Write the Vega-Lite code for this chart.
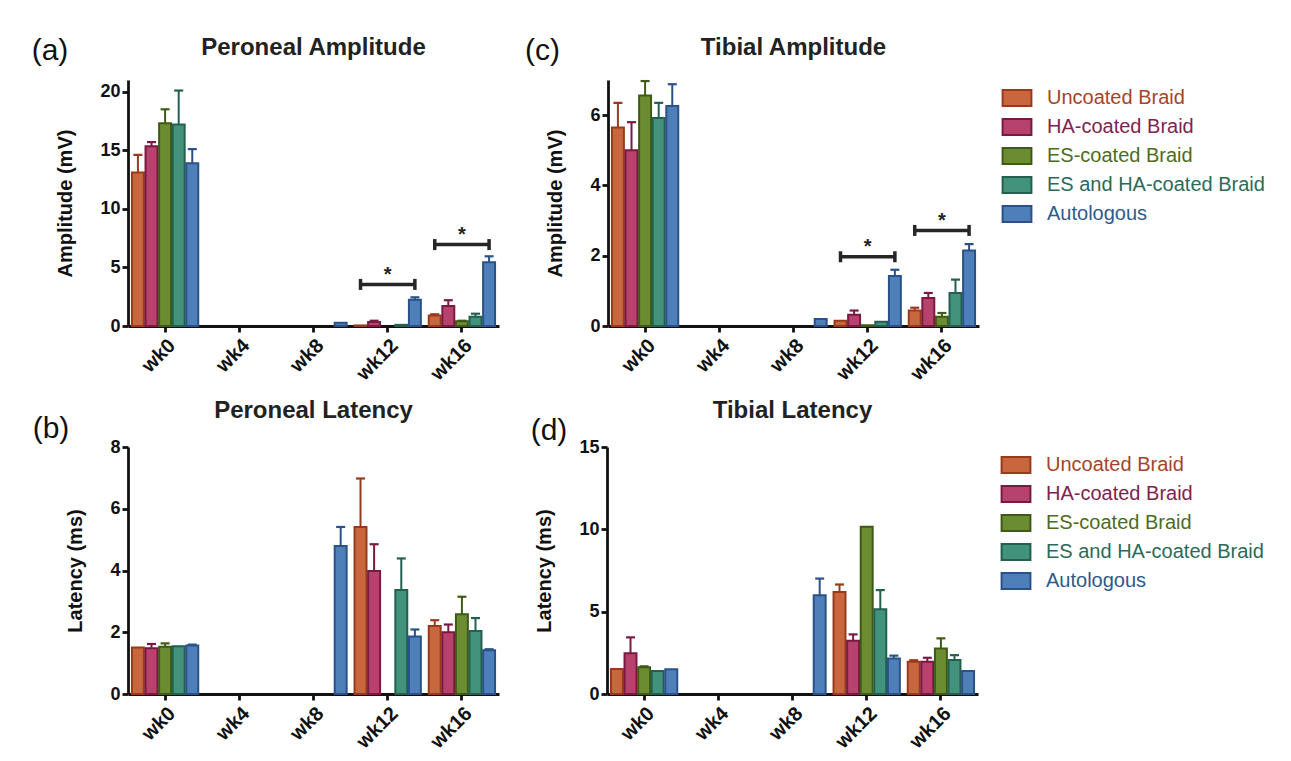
{
  "$schema": "https://vega.github.io/schema/vega-lite/v6.json",
  "padding": {"left": 31, "top": 35, "right": 5, "bottom": 5},
  "background": "white",
  "datasets": {
    "bars": [
      {"p": "a", "week": "wk0", "group": "Uncoated Braid", "value": 13.1, "err": 14.6},
      {"p": "a", "week": "wk0", "group": "HA-coated Braid", "value": 15.35, "err": 15.7},
      {"p": "a", "week": "wk0", "group": "ES-coated Braid", "value": 17.3, "err": 18.5},
      {"p": "a", "week": "wk0", "group": "ES and HA-coated Braid", "value": 17.2, "err": 20.1},
      {"p": "a", "week": "wk0", "group": "Autologous", "value": 13.9, "err": 15.1},
      {"p": "a", "week": "wk8", "group": "Autologous", "value": 0.28},
      {"p": "a", "week": "wk12", "group": "Uncoated Braid", "value": 0.05},
      {"p": "a", "week": "wk12", "group": "HA-coated Braid", "value": 0.35, "err": 0.45},
      {"p": "a", "week": "wk12", "group": "ES and HA-coated Braid", "value": 0.1},
      {"p": "a", "week": "wk12", "group": "Autologous", "value": 2.25, "err": 2.45},
      {"p": "a", "week": "wk16", "group": "Uncoated Braid", "value": 0.9, "err": 1.0},
      {"p": "a", "week": "wk16", "group": "HA-coated Braid", "value": 1.7, "err": 2.2},
      {"p": "a", "week": "wk16", "group": "ES-coated Braid", "value": 0.4, "err": 0.45},
      {"p": "a", "week": "wk16", "group": "ES and HA-coated Braid", "value": 0.78, "err": 1.05},
      {"p": "a", "week": "wk16", "group": "Autologous", "value": 5.45, "err": 5.95},

      {"p": "c", "week": "wk0", "group": "Uncoated Braid", "value": 5.65, "err": 6.35},
      {"p": "c", "week": "wk0", "group": "HA-coated Braid", "value": 5.0, "err": 5.8},
      {"p": "c", "week": "wk0", "group": "ES-coated Braid", "value": 6.56, "err": 6.97},
      {"p": "c", "week": "wk0", "group": "ES and HA-coated Braid", "value": 5.92, "err": 6.35},
      {"p": "c", "week": "wk0", "group": "Autologous", "value": 6.26, "err": 6.88},
      {"p": "c", "week": "wk8", "group": "Autologous", "value": 0.2},
      {"p": "c", "week": "wk12", "group": "Uncoated Braid", "value": 0.15},
      {"p": "c", "week": "wk12", "group": "HA-coated Braid", "value": 0.32, "err": 0.44},
      {"p": "c", "week": "wk12", "group": "ES-coated Braid", "value": 0.02},
      {"p": "c", "week": "wk12", "group": "ES and HA-coated Braid", "value": 0.12},
      {"p": "c", "week": "wk12", "group": "Autologous", "value": 1.42, "err": 1.6},
      {"p": "c", "week": "wk16", "group": "Uncoated Braid", "value": 0.44, "err": 0.52},
      {"p": "c", "week": "wk16", "group": "HA-coated Braid", "value": 0.8, "err": 0.94},
      {"p": "c", "week": "wk16", "group": "ES-coated Braid", "value": 0.26, "err": 0.37},
      {"p": "c", "week": "wk16", "group": "ES and HA-coated Braid", "value": 0.94, "err": 1.32},
      {"p": "c", "week": "wk16", "group": "Autologous", "value": 2.15, "err": 2.33},

      {"p": "b", "week": "wk0", "group": "Uncoated Braid", "value": 1.51},
      {"p": "b", "week": "wk0", "group": "HA-coated Braid", "value": 1.48, "err": 1.62},
      {"p": "b", "week": "wk0", "group": "ES-coated Braid", "value": 1.53, "err": 1.64},
      {"p": "b", "week": "wk0", "group": "ES and HA-coated Braid", "value": 1.55},
      {"p": "b", "week": "wk0", "group": "Autologous", "value": 1.57, "err": 1.6},
      {"p": "b", "week": "wk8", "group": "Autologous", "value": 4.79, "err": 5.41},
      {"p": "b", "week": "wk12", "group": "Uncoated Braid", "value": 5.41, "err": 6.98},
      {"p": "b", "week": "wk12", "group": "HA-coated Braid", "value": 3.98, "err": 4.85},
      {"p": "b", "week": "wk12", "group": "ES and HA-coated Braid", "value": 3.37, "err": 4.39},
      {"p": "b", "week": "wk12", "group": "Autologous", "value": 1.86, "err": 2.09},
      {"p": "b", "week": "wk16", "group": "Uncoated Braid", "value": 2.2, "err": 2.39},
      {"p": "b", "week": "wk16", "group": "HA-coated Braid", "value": 2.0, "err": 2.25},
      {"p": "b", "week": "wk16", "group": "ES-coated Braid", "value": 2.58, "err": 3.15},
      {"p": "b", "week": "wk16", "group": "ES and HA-coated Braid", "value": 2.04, "err": 2.46},
      {"p": "b", "week": "wk16", "group": "Autologous", "value": 1.42, "err": 1.45},

      {"p": "d", "week": "wk0", "group": "Uncoated Braid", "value": 1.52},
      {"p": "d", "week": "wk0", "group": "HA-coated Braid", "value": 2.47, "err": 3.44},
      {"p": "d", "week": "wk0", "group": "ES-coated Braid", "value": 1.62, "err": 1.68},
      {"p": "d", "week": "wk0", "group": "ES and HA-coated Braid", "value": 1.39},
      {"p": "d", "week": "wk0", "group": "Autologous", "value": 1.5},
      {"p": "d", "week": "wk8", "group": "Autologous", "value": 6.0, "err": 7.01},
      {"p": "d", "week": "wk12", "group": "Uncoated Braid", "value": 6.2, "err": 6.65},
      {"p": "d", "week": "wk12", "group": "HA-coated Braid", "value": 3.23, "err": 3.62},
      {"p": "d", "week": "wk12", "group": "ES-coated Braid", "value": 10.15},
      {"p": "d", "week": "wk12", "group": "ES and HA-coated Braid", "value": 5.15, "err": 6.31},
      {"p": "d", "week": "wk12", "group": "Autologous", "value": 2.16, "err": 2.33},
      {"p": "d", "week": "wk16", "group": "Uncoated Braid", "value": 1.96, "err": 2.05},
      {"p": "d", "week": "wk16", "group": "HA-coated Braid", "value": 1.96, "err": 2.2},
      {"p": "d", "week": "wk16", "group": "ES-coated Braid", "value": 2.77, "err": 3.38},
      {"p": "d", "week": "wk16", "group": "ES and HA-coated Braid", "value": 2.06, "err": 2.36},
      {"p": "d", "week": "wk16", "group": "Autologous", "value": 1.39}
    ],
    "brackets": [
      {"p": "a", "week": "wk12", "level": 3.55, "star": 4.35},
      {"p": "a", "week": "wk16", "level": 6.95, "star": 7.75},
      {"p": "c", "week": "wk12", "level": 1.97, "star": 2.24},
      {"p": "c", "week": "wk16", "level": 2.72, "star": 2.99}
    ]
  },
  "resolve": {"scale": {"fill": "independent", "stroke": "independent"}, "legend": {"fill": "independent", "stroke": "independent"}},
  "spacing": 15,
  "vconcat": [
    {
      "resolve": {"scale": {"fill": "independent", "stroke": "independent"}, "legend": {"fill": "independent", "stroke": "independent"}},
      "spacing": 26,
      "hconcat": [
        {
          "title": {"text": "(a)", "orient": "left", "anchor": "end", "angle": 0, "fontSize": 30, "fontWeight": "normal", "color": "#111", "offset": -49},
          "vconcat": [
            {
              "title": {"text": "Peroneal Amplitude"},
              "width": 371, "height": 246,
              "data": {"name": "bars"},
              "transform": [{"filter": "datum.p === 'a'"}],
              "encoding": {
                "x": {"field": "week", "type": "nominal", "title": null, "scale": {"domain": ["wk0", "wk4", "wk8", "wk12", "wk16"], "paddingInner": 0, "paddingOuter": 0}, "axis": {"labelAngle": -45}},
                "xOffset": {"field": "group", "type": "nominal", "scale": {"domain": ["Uncoated Braid", "HA-coated Braid", "ES-coated Braid", "ES and HA-coated Braid", "Autologous"], "paddingInner": 0.12, "paddingOuter": 0.29}}
              },
              "layer": [
                {
                  "mark": {"type": "bar", "strokeWidth": 2},
                  "encoding": {
                    "y": {"field": "value", "type": "quantitative", "title": "Amplitude (mV)", "scale": {"domain": [0, 21], "nice": false}, "axis": {"values": [0, 5, 10, 15, 20]}},
                    "fill": {"field": "group", "type": "nominal", "legend": null, "scale": {"domain": ["Uncoated Braid", "HA-coated Braid", "ES-coated Braid", "ES and HA-coated Braid", "Autologous"], "range": ["#c8663e", "#b8426e", "#6c8c32", "#43927c", "#4f7fb8"]}},
                    "stroke": {"field": "group", "type": "nominal", "legend": null, "scale": {"domain": ["Uncoated Braid", "HA-coated Braid", "ES-coated Braid", "ES and HA-coated Braid", "Autologous"], "range": ["#9a3a1c", "#7a1a42", "#3f5a16", "#236050", "#2a5288"]}}
                  }
                },
                {
                  "transform": [{"filter": "isValid(datum.err)"}],
                  "mark": {"type": "rule", "strokeWidth": 2},
                  "encoding": {
                    "y": {"field": "value", "type": "quantitative", "title": "Amplitude (mV)"},
                    "y2": {"field": "err"},
                    "stroke": {"field": "group", "type": "nominal", "legend": null}
                  }
                },
                {
                  "transform": [{"filter": "isValid(datum.err)"}],
                  "mark": {"type": "tick", "size": 7, "thickness": 0.2, "strokeWidth": 2, "filled": false, "opacity": 1},
                  "encoding": {
                    "y": {"field": "err", "type": "quantitative", "title": "Amplitude (mV)"},
                    "stroke": {"field": "group", "type": "nominal", "legend": null}
                  }
                },
                {
                  "data": {"name": "brackets"},
                  "transform": [{"filter": "datum.p === 'a'"}],
                  "mark": {"type": "tick", "size": 55, "thickness": 3.5, "color": "#262626", "opacity": 1},
                  "encoding": {
                    "xOffset": {"datum": "ES-coated Braid"},
                    "y": {"field": "level", "type": "quantitative", "title": "Amplitude (mV)"}
                  }
                },
                {
                  "data": {"name": "brackets"},
                  "transform": [{"filter": "datum.p === 'a'"}],
                  "mark": {"type": "tick", "orient": "vertical", "size": 11, "thickness": 3.5, "color": "#262626", "opacity": 1},
                  "encoding": {
                    "xOffset": {"datum": "Uncoated Braid"},
                    "y": {"field": "level", "type": "quantitative", "title": "Amplitude (mV)"}
                  }
                },
                {
                  "data": {"name": "brackets"},
                  "transform": [{"filter": "datum.p === 'a'"}],
                  "mark": {"type": "tick", "orient": "vertical", "size": 11, "thickness": 3.5, "color": "#262626", "opacity": 1},
                  "encoding": {
                    "xOffset": {"datum": "Autologous"},
                    "y": {"field": "level", "type": "quantitative", "title": "Amplitude (mV)"}
                  }
                },
                {
                  "data": {"name": "brackets"},
                  "transform": [{"filter": "datum.p === 'a'"}],
                  "mark": {"type": "text", "fontSize": 20, "fontWeight": "bold", "color": "#222", "baseline": "middle", "font": "Liberation Sans"},
                  "encoding": {
                    "xOffset": {"datum": "ES-coated Braid"},
                    "y": {"field": "star", "type": "quantitative", "title": "Amplitude (mV)"},
                    "text": {"value": "*"}
                  }
                }
              ]
            }
          ]
        },
        {
          "title": {"text": "(c)", "orient": "left", "anchor": "end", "angle": 0, "fontSize": 30, "fontWeight": "normal", "color": "#111", "offset": -49},
          "vconcat": [
            {
              "title": {"text": "Tibial Amplitude"},
              "width": 371, "height": 246,
              "data": {"name": "bars"},
              "transform": [{"filter": "datum.p === 'c'"}],
              "encoding": {
                "x": {"field": "week", "type": "nominal", "title": null, "scale": {"domain": ["wk0", "wk4", "wk8", "wk12", "wk16"], "paddingInner": 0, "paddingOuter": 0}, "axis": {"labelAngle": -45}},
                "xOffset": {"field": "group", "type": "nominal", "scale": {"domain": ["Uncoated Braid", "HA-coated Braid", "ES-coated Braid", "ES and HA-coated Braid", "Autologous"], "paddingInner": 0.12, "paddingOuter": 0.29}}
              },
              "layer": [
                {
                  "mark": {"type": "bar", "strokeWidth": 2},
                  "encoding": {
                    "y": {"field": "value", "type": "quantitative", "title": "Amplitude (mV)", "scale": {"domain": [0, 7], "nice": false}, "axis": {"values": [0, 2, 4, 6]}},
                    "fill": {"field": "group", "type": "nominal", "title": null, "scale": {"domain": ["Uncoated Braid", "HA-coated Braid", "ES-coated Braid", "ES and HA-coated Braid", "Autologous"], "range": ["#c8663e", "#b8426e", "#6c8c32", "#43927c", "#4f7fb8"]}},
                    "stroke": {"field": "group", "type": "nominal", "title": null, "scale": {"domain": ["Uncoated Braid", "HA-coated Braid", "ES-coated Braid", "ES and HA-coated Braid", "Autologous"], "range": ["#9a3a1c", "#7a1a42", "#3f5a16", "#236050", "#2a5288"]}}
                  }
                },
                {
                  "transform": [{"filter": "isValid(datum.err)"}],
                  "mark": {"type": "rule", "strokeWidth": 2},
                  "encoding": {
                    "y": {"field": "value", "type": "quantitative", "title": "Amplitude (mV)"},
                    "y2": {"field": "err"},
                    "stroke": {"field": "group", "type": "nominal", "title": null}
                  }
                },
                {
                  "transform": [{"filter": "isValid(datum.err)"}],
                  "mark": {"type": "tick", "size": 7, "thickness": 0.2, "strokeWidth": 2, "filled": false, "opacity": 1},
                  "encoding": {
                    "y": {"field": "err", "type": "quantitative", "title": "Amplitude (mV)"},
                    "stroke": {"field": "group", "type": "nominal", "title": null}
                  }
                },
                {
                  "data": {"name": "brackets"},
                  "transform": [{"filter": "datum.p === 'c'"}],
                  "mark": {"type": "tick", "size": 55, "thickness": 3.5, "color": "#262626", "opacity": 1},
                  "encoding": {
                    "xOffset": {"datum": "ES-coated Braid"},
                    "y": {"field": "level", "type": "quantitative", "title": "Amplitude (mV)"}
                  }
                },
                {
                  "data": {"name": "brackets"},
                  "transform": [{"filter": "datum.p === 'c'"}],
                  "mark": {"type": "tick", "orient": "vertical", "size": 11, "thickness": 3.5, "color": "#262626", "opacity": 1},
                  "encoding": {
                    "xOffset": {"datum": "Uncoated Braid"},
                    "y": {"field": "level", "type": "quantitative", "title": "Amplitude (mV)"}
                  }
                },
                {
                  "data": {"name": "brackets"},
                  "transform": [{"filter": "datum.p === 'c'"}],
                  "mark": {"type": "tick", "orient": "vertical", "size": 11, "thickness": 3.5, "color": "#262626", "opacity": 1},
                  "encoding": {
                    "xOffset": {"datum": "Autologous"},
                    "y": {"field": "level", "type": "quantitative", "title": "Amplitude (mV)"}
                  }
                },
                {
                  "data": {"name": "brackets"},
                  "transform": [{"filter": "datum.p === 'c'"}],
                  "mark": {"type": "text", "fontSize": 20, "fontWeight": "bold", "color": "#222", "baseline": "middle", "font": "Liberation Sans"},
                  "encoding": {
                    "xOffset": {"datum": "ES-coated Braid"},
                    "y": {"field": "star", "type": "quantitative", "title": "Amplitude (mV)"},
                    "text": {"value": "*"}
                  }
                }
              ]
            }
          ]
        }
      ]
    },
    {
      "resolve": {"scale": {"fill": "independent", "stroke": "independent"}, "legend": {"fill": "independent", "stroke": "independent"}},
      "spacing": 31,
      "hconcat": [
        {
          "title": {"text": "(b)", "orient": "left", "anchor": "end", "angle": 0, "fontSize": 30, "fontWeight": "normal", "color": "#111", "offset": -40, "dy": 15},
          "vconcat": [
            {
              "title": {"text": "Peroneal Latency", "offset": 15},
              "width": 371, "height": 247,
              "data": {"name": "bars"},
              "transform": [{"filter": "datum.p === 'b'"}],
              "encoding": {
                "x": {"field": "week", "type": "nominal", "title": null, "scale": {"domain": ["wk0", "wk4", "wk8", "wk12", "wk16"], "paddingInner": 0, "paddingOuter": 0}, "axis": {"labelAngle": -45}},
                "xOffset": {"field": "group", "type": "nominal", "scale": {"domain": ["Uncoated Braid", "HA-coated Braid", "ES-coated Braid", "ES and HA-coated Braid", "Autologous"], "paddingInner": 0.12, "paddingOuter": 0.29}}
              },
              "layer": [
                {
                  "mark": {"type": "bar", "strokeWidth": 2},
                  "encoding": {
                    "y": {"field": "value", "type": "quantitative", "title": "Latency (ms)", "scale": {"domain": [0, 8], "nice": false}, "axis": {"values": [0, 2, 4, 6, 8]}},
                    "fill": {"field": "group", "type": "nominal", "legend": null, "scale": {"domain": ["Uncoated Braid", "HA-coated Braid", "ES-coated Braid", "ES and HA-coated Braid", "Autologous"], "range": ["#c8663e", "#b8426e", "#6c8c32", "#43927c", "#4f7fb8"]}},
                    "stroke": {"field": "group", "type": "nominal", "legend": null, "scale": {"domain": ["Uncoated Braid", "HA-coated Braid", "ES-coated Braid", "ES and HA-coated Braid", "Autologous"], "range": ["#9a3a1c", "#7a1a42", "#3f5a16", "#236050", "#2a5288"]}}
                  }
                },
                {
                  "transform": [{"filter": "isValid(datum.err)"}],
                  "mark": {"type": "rule", "strokeWidth": 2},
                  "encoding": {
                    "y": {"field": "value", "type": "quantitative", "title": "Latency (ms)"},
                    "y2": {"field": "err"},
                    "stroke": {"field": "group", "type": "nominal", "legend": null}
                  }
                },
                {
                  "transform": [{"filter": "isValid(datum.err)"}],
                  "mark": {"type": "tick", "size": 7, "thickness": 0.2, "strokeWidth": 2, "filled": false, "opacity": 1},
                  "encoding": {
                    "y": {"field": "err", "type": "quantitative", "title": "Latency (ms)"},
                    "stroke": {"field": "group", "type": "nominal", "legend": null}
                  }
                }
              ]
            }
          ]
        },
        {
          "title": {"text": "(d)", "orient": "left", "anchor": "end", "angle": 0, "fontSize": 30, "fontWeight": "normal", "color": "#111", "offset": -69, "dy": 17},
          "vconcat": [
            {
              "title": {"text": "Tibial Latency", "offset": 15},
              "width": 371, "height": 247,
              "data": {"name": "bars"},
              "transform": [{"filter": "datum.p === 'd'"}],
              "encoding": {
                "x": {"field": "week", "type": "nominal", "title": null, "scale": {"domain": ["wk0", "wk4", "wk8", "wk12", "wk16"], "paddingInner": 0, "paddingOuter": 0}, "axis": {"labelAngle": -45}},
                "xOffset": {"field": "group", "type": "nominal", "scale": {"domain": ["Uncoated Braid", "HA-coated Braid", "ES-coated Braid", "ES and HA-coated Braid", "Autologous"], "paddingInner": 0.12, "paddingOuter": 0.29}}
              },
              "layer": [
                {
                  "mark": {"type": "bar", "strokeWidth": 2},
                  "encoding": {
                    "y": {"field": "value", "type": "quantitative", "title": "Latency (ms)", "scale": {"domain": [0, 15], "nice": false}, "axis": {"values": [0, 5, 10, 15]}},
                    "fill": {"field": "group", "type": "nominal", "title": null, "scale": {"domain": ["Uncoated Braid", "HA-coated Braid", "ES-coated Braid", "ES and HA-coated Braid", "Autologous"], "range": ["#c8663e", "#b8426e", "#6c8c32", "#43927c", "#4f7fb8"]}},
                    "stroke": {"field": "group", "type": "nominal", "title": null, "scale": {"domain": ["Uncoated Braid", "HA-coated Braid", "ES-coated Braid", "ES and HA-coated Braid", "Autologous"], "range": ["#9a3a1c", "#7a1a42", "#3f5a16", "#236050", "#2a5288"]}}
                  }
                },
                {
                  "transform": [{"filter": "isValid(datum.err)"}],
                  "mark": {"type": "rule", "strokeWidth": 2},
                  "encoding": {
                    "y": {"field": "value", "type": "quantitative", "title": "Latency (ms)"},
                    "y2": {"field": "err"},
                    "stroke": {"field": "group", "type": "nominal", "title": null}
                  }
                },
                {
                  "transform": [{"filter": "isValid(datum.err)"}],
                  "mark": {"type": "tick", "size": 7, "thickness": 0.2, "strokeWidth": 2, "filled": false, "opacity": 1},
                  "encoding": {
                    "y": {"field": "err", "type": "quantitative", "title": "Latency (ms)"},
                    "stroke": {"field": "group", "type": "nominal", "title": null}
                  }
                }
              ]
            }
          ]
        }
      ]
    }
  ],
  "config": {
    "view": {"stroke": null},
    "font": "Liberation Sans",
    "axis": {
      "domainColor": "#111", "domainWidth": 2.8, "tickColor": "#111", "tickWidth": 2.8, "tickSize": 6,
      "labelFont": "Liberation Sans", "labelFontWeight": "bold", "labelFontSize": 18, "labelColor": "#111", "labelPadding": 2,
      "titleFont": "Liberation Sans", "titleFontWeight": "bold", "titleFontSize": 20, "titleColor": "#111",
      "grid": false
    },
    "axisX": {"labelFontSize": 20, "labelPadding": 3},
    "axisY": {"titlePadding": 24},
    "title": {"font": "Liberation Sans", "fontSize": 24, "fontWeight": "bold", "color": "#222", "offset": 20},
    "legend": {
      "symbolType": "M-1.8,-1H1.8V1H-1.8Z", "symbolSize": 256, "symbolStrokeWidth": 2,
      "labelFont": "Liberation Sans", "labelFontSize": 20, "labelOffset": 20, "rowPadding": 5, "labelLimit": 400,
      "offset": 20, "padding": 8,
      "labelColor": {"expr": "datum.value === 'Uncoated Braid' ? '#a5452a' : datum.value === 'HA-coated Braid' ? '#7f2350' : datum.value === 'ES-coated Braid' ? '#4d6c22' : datum.value === 'ES and HA-coated Braid' ? '#2c6a5a' : '#2d5a8e'"}
    }
  }
}
